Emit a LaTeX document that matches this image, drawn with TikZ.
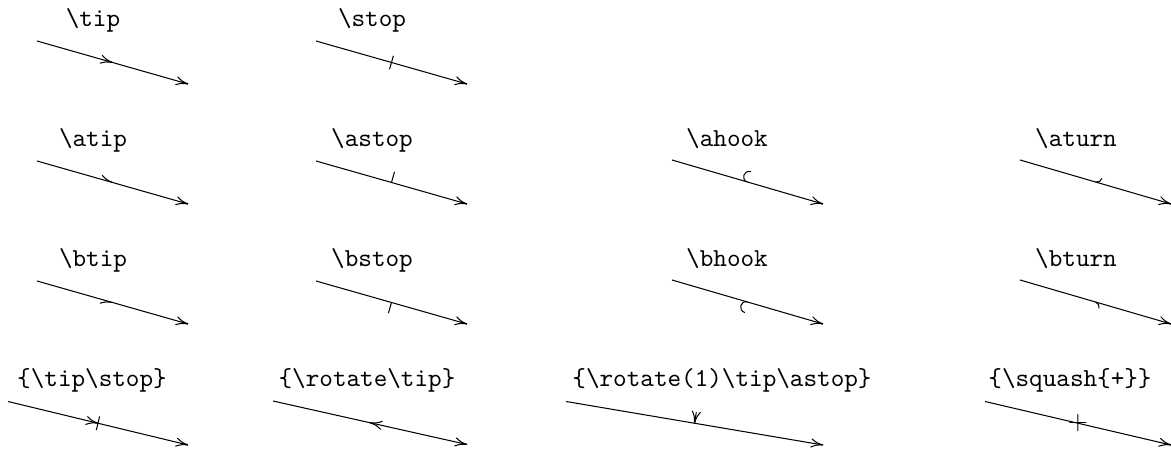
\documentclass[tikz,border=0pt]{standalone}
\usetikzlibrary{decorations.markings,calc}
\newcommand\mkTipA{\draw (-4.6pt,1.6pt) .. controls (-2.4pt,0.35pt) .. (0pt,0pt);}
\newcommand\mkTipB{\draw (-4.6pt,-1.6pt) .. controls (-2.4pt,-0.35pt) .. (0pt,0pt);}
\newcommand\mkTip{\mkTipA\mkTipB}
\newcommand\mkRTip{\draw (4.6pt,1.6pt) .. controls (2.4pt,0.35pt) .. (0pt,0pt);\draw (4.6pt,-1.6pt) .. controls (2.4pt,-0.35pt) .. (0pt,0pt);}
\newcommand\mkStop{\draw (0pt,-2.7pt) -- (0pt,2.7pt);}
\newcommand\mkAStop{\draw (0pt,0pt) -- (0pt,4.3pt);}
\newcommand\mkBStop{\draw (0pt,0pt) -- (0pt,-4.3pt);}
\newcommand\mkAHook{\draw (0pt,0pt) .. controls (-2.8pt,0pt) and (-2.8pt,4.2pt) .. (0.2pt,4.2pt);}
\newcommand\mkBHook{\draw (0pt,0pt) .. controls (-2.8pt,0pt) and (-2.8pt,-4.2pt) .. (0.2pt,-4.2pt);}
\newcommand\mkATurn{\draw (0pt,0pt) .. controls (1.1pt,0pt) and (2pt,0.9pt) .. (2pt,2pt);}
\newcommand\mkBTurn{\draw (0pt,0pt) .. controls (1.1pt,0pt) and (2pt,-0.9pt) .. (2pt,-2pt);}
\newcommand\mkYTip{\draw (0pt,0pt) -- (0pt,4.3pt);
  \draw (1.6pt,4.6pt) .. controls (0.35pt,2.4pt) .. (0pt,0pt);
  \draw (-1.6pt,4.6pt) .. controls (-0.35pt,2.4pt) .. (0pt,0pt);}
\tikzset{
  xyline/.style={line width=0.4pt,
    postaction={decorate,decoration={markings,mark=at position 1 with {\mkTip}}}},
  midmark/.style={postaction={decorate,decoration={markings,mark=at position 0.5 with {#1}}}},
  lbl/.style={font=\ttfamily, anchor=base, inner sep=0pt}
}
\begin{document}
\begin{tikzpicture}[x=0.3861pt,y=-0.3861pt,line width=0.4pt]
\useasboundingbox (0,0) rectangle (1171,450);
% row 1
\node[lbl] (l11) at (93,27) {\textbackslash tip};
\node[lbl] (l12) at (372,27) {\textbackslash stop};
\coordinate (a1s) at (37,41);  \coordinate (a1e) at (188,84);
\coordinate (a2s) at (316,41); \coordinate (a2e) at (467,84);
\draw[xyline,midmark={\mkTip}] (a1s) -- (a1e);
\draw[xyline,midmark={\mkStop}] (a2s) -- (a2e);
% row 2
\node[lbl] (l21) at (93,147) {\textbackslash atip};
\node[lbl] (l22) at (372,147) {\textbackslash astop};
\node[lbl] (l23) at (727,147) {\textbackslash ahook};
\node[lbl] (l24) at (1076,147) {\textbackslash aturn};
\coordinate (b1s) at (37,161);   \coordinate (b1e) at (188,204);
\coordinate (b2s) at (316,161);  \coordinate (b2e) at (467,204);
\coordinate (b3s) at (672,160);  \coordinate (b3e) at (823,204);
\coordinate (b4s) at (1020,160); \coordinate (b4e) at (1171,204);
\draw[xyline,midmark={\mkTipA}] (b1s) -- (b1e);
\draw[xyline,midmark={\mkAStop}] (b2s) -- (b2e);
\draw[xyline,midmark={\mkAHook}] (b3s) -- (b3e);
\draw[xyline,midmark={\mkATurn}] (b4s) -- (b4e);
% row 3
\node[lbl] (l31) at (93,267) {\textbackslash btip};
\node[lbl] (l32) at (372,267) {\textbackslash bstop};
\node[lbl] (l33) at (727,267) {\textbackslash bhook};
\node[lbl] (l34) at (1076,267) {\textbackslash bturn};
\coordinate (c1s) at (37,281);   \coordinate (c1e) at (188,324);
\coordinate (c2s) at (316,281);  \coordinate (c2e) at (467,324);
\coordinate (c3s) at (672,280);  \coordinate (c3e) at (823,324);
\coordinate (c4s) at (1020,280); \coordinate (c4e) at (1171,324);
\draw[xyline,midmark={\mkTipB}] (c1s) -- (c1e);
\draw[xyline,midmark={\mkBStop}] (c2s) -- (c2e);
\draw[xyline,midmark={\mkBHook}] (c3s) -- (c3e);
\draw[xyline,midmark={\mkBTurn}] (c4s) -- (c4e);
% row 4
\node[lbl] (l41) at (92,387) {\{\textbackslash tip\textbackslash stop\}};
\node[lbl] (l42) at (367,387) {\{\textbackslash rotate\textbackslash tip\}};
\node[lbl] (l43) at (722,387) {\{\textbackslash rotate(1)\textbackslash tip\textbackslash astop\}};
\node[lbl] (l44) at (1070,387) {\{\textbackslash squash\{+\}\}};
\coordinate (d1s) at (8,401.5);   \coordinate (d1e) at (188,445);
\coordinate (d2s) at (273,401);   \coordinate (d2e) at (467,444.5);
\coordinate (d3s) at (566,401.5); \coordinate (d3e) at (823,445);
\coordinate (d4s) at (985,401.5); \coordinate (d4e) at (1171,445);
\draw[xyline,midmark={\mkTip\mkStop}] (d1s) -- (d1e);
\draw[xyline,midmark={\mkRTip}] (d2s) -- (d2e);
\draw[xyline,midmark={\mkYTip}] (d3s) -- (d3e);
\draw[xyline] (d4s) -- (d4e);
\node[inner sep=0pt] (plus) at ($(d4s)!0.5!(d4e)$) {$+$};
\end{tikzpicture}
\end{document}
